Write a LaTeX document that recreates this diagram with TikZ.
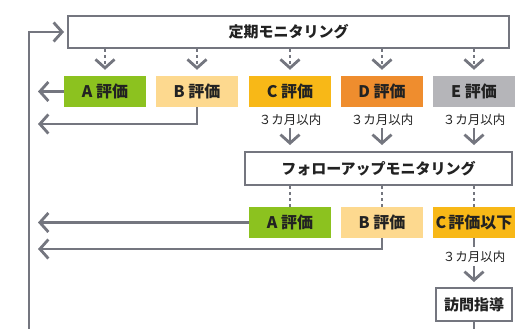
\documentclass[tikz,border=0pt]{standalone}
\usepackage{fontspec}
\setmainfont{Noto Sans CJK JP}
\usetikzlibrary{arrows.meta}
\definecolor{lg}{HTML}{74767F}
\definecolor{cA}{HTML}{8CC21F}
\definecolor{cB}{HTML}{FDD98F}
\definecolor{cC}{HTML}{F8B817}
\definecolor{cD}{HTML}{EF8D2E}
\definecolor{cE}{HTML}{B5B5B9}
\definecolor{tx}{HTML}{222222}
\begin{document}
\begin{tikzpicture}[x=1pt,y=-1pt,
  conn/.style={draw=lg,line width=2.8pt},
  arr/.style={conn,-{Straight Barb[length=8.5pt,width=19pt]}},
  darr/.style={arr,dash pattern=on 3pt off 3pt},
  dline/.style={conn,dash pattern=on 3pt off 3pt},
  box/.style={draw=lg,line width=2pt,fill=white,text=tx,inner sep=0pt,
    font=\bfseries\fontsize{15}{15}\selectfont},
  ev/.style={minimum width=82pt,minimum height=31pt,inner sep=0pt,text=tx,
    font=\bfseries\fontsize{16}{16}\selectfont},
  note/.style={inner sep=0pt,text=tx,font=\fontsize{12.5}{12.5}\selectfont}]
\useasboundingbox (0,0) rectangle (519,329);
\fill[white] (0,0) rectangle (519,329);
% top box
\node[box,minimum width=441pt,minimum height=32pt] (top) at (288.5,32) {定期モニタリング};
% row 1
\node[ev,fill=cA] (a1) at (105,91.5) {A\hspace{3.5pt}評価};
\node[ev,fill=cB] (b1) at (197,91.5) {B\hspace{3.5pt}評価};
\node[ev,fill=cC] (c1) at (290,91.5) {C\hspace{3.5pt}評価};
\node[ev,fill=cD] (d1) at (382,91.5) {D\hspace{3.5pt}評価};
\node[ev,fill=cE] (e1) at (474,91.5) {E\hspace{3.5pt}評価};
\node[note] (n1) at (290,120) {３カ月以内};
\node[note] (n2) at (382,120) {３カ月以内};
\node[note] (n3) at (474,120) {３カ月以内};
% follow-up box
\node[box,minimum width=267pt,minimum height=33pt] (fu) at (378.5,168.5) {フォローアップモニタリング};
% row 2
\node[ev,fill=cA] (a2) at (290,222.5) {A\hspace{3.5pt}評価};
\node[ev,fill=cB] (b2) at (382,222.5) {B\hspace{3.5pt}評価};
\node[ev,fill=cC] (c2) at (474,222.5) {C\hspace{2pt}評価以下};
\node[note] (n4) at (474,257) {３カ月以内};
\node[box,minimum width=76pt,minimum height=33pt] (vis) at (474,304.5) {訪問指導};
% coordinates
\coordinate (L) at (38,0);
\coordinate (bl1) at (38,124);
\coordinate (bl2) at (38,249);
\coordinate (fb) at (29,332);
\coordinate (vb) at (474,332);
% connectors top -> row1
\foreach \n in {a1,b1,c1,d1,e1}
  \draw[darr,shorten >=6pt] (top.south -| \n) -- (\n.north);
\draw[arr] (a1.west) -- (a1.west -| L);
\draw[arr] (b1.south) |- (bl1);
\foreach \n in {n1,n2,n3}
  \draw[arr,shorten <=2pt,shorten >=6pt] (\n.south) -- (\n.south |- fu.north);
% follow-up -> row2
\foreach \n in {a2,b2,c2}
  \draw[dline] (fu.south -| \n) -- (\n.north);
\draw[arr] (a2.west) -- (a2.west -| L);
\draw[arr] (b2.south) |- (bl2);
\draw[conn,shorten >=4pt] (c2.south) -- (n4.north);
\draw[arr,shorten <=3pt,shorten >=5pt] (n4.south) -- (vis.north);
\draw[conn] (vis.south) -- (vb);
% feedback loop
\draw[arr,shorten >=3pt] (fb) |- (top.west);
\end{tikzpicture}
\end{document}
